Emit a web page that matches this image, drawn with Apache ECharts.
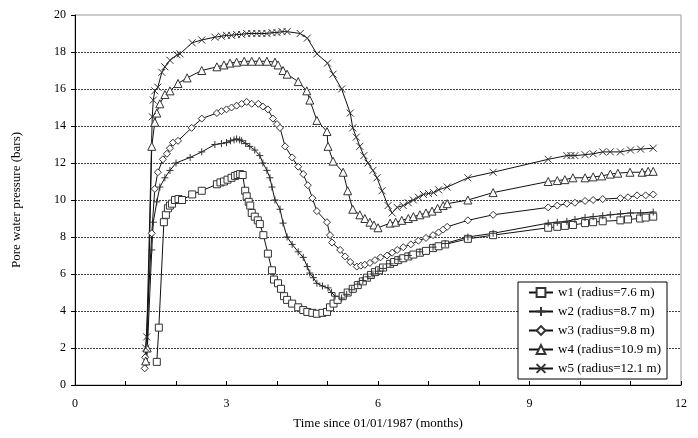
<!DOCTYPE html>
<html>
<head>
<meta charset="utf-8">
<script src="https://cdn.jsdelivr.net/npm/echarts@6/dist/echarts.min.js"></script>
<style>html,body{margin:0;padding:0;background:#fff}#c{width:698px;height:438px}</style>
</head>
<body>
<div id="c"></div>
<script>
var seriesNames = ['w1 (radius=7.6 m)', 'w2 (radius=8.7 m)', 'w3 (radius=9.8 m)', 'w4 (radius=10.9 m)', 'w5 (radius=12.1 m)'];
var xTickLabels = [0, 3, 6, 9, 12];
var yTickLabels = [0, 2, 4, 6, 8, 10, 12, 14, 16, 18, 20];

var w1Data = [[1.62,1.25],[1.66,3.1],[1.76,8.8],[1.80,9.2],[1.84,9.55],[1.88,9.7],[1.92,9.8],[1.98,10.0],[2.05,10.05],[2.12,10.0],[2.32,10.3],[2.51,10.5],[2.81,10.85],[2.88,10.95],[2.95,11.0],[3.02,11.1],[3.1,11.2],[3.17,11.3],[3.22,11.35],[3.27,11.4],[3.32,11.35],[3.37,10.5],[3.4,10.2],[3.44,9.9],[3.47,9.7],[3.5,9.3],[3.56,9.1],[3.62,8.9],[3.66,8.7],[3.73,8.1],[3.82,7.1],[3.9,6.2],[3.94,5.7],[4.02,5.5],[4.08,5.2],[4.14,4.8],[4.2,4.6],[4.3,4.4],[4.42,4.2],[4.52,4.05],[4.6,3.95],[4.7,3.9],[4.79,3.85],[4.9,3.9],[4.99,3.95],[5.05,4.2],[5.12,4.4],[5.2,4.6],[5.3,4.8],[5.4,5.0],[5.5,5.2],[5.6,5.4],[5.7,5.6],[5.78,5.8],[5.86,5.95],[5.94,6.1],[6.02,6.2],[6.1,6.35],[6.24,6.55],[6.32,6.65],[6.4,6.75],[6.5,6.85],[6.6,6.95],[6.7,7.05],[6.83,7.15],[6.95,7.25],[7.09,7.4],[7.2,7.5],[7.33,7.6],[7.78,7.9],[8.28,8.1],[9.37,8.5],[9.55,8.55],[9.7,8.6],[9.86,8.65],[10.1,8.75],[10.26,8.8],[10.45,8.85],[10.8,8.9],[10.95,8.95],[11.19,9.0],[11.3,9.05],[11.45,9.1]];
var w2Data = [[1.42,1.2],[1.52,7.3],[1.55,8.8],[1.62,9.9],[1.68,10.7],[1.78,11.2],[1.88,11.6],[2.0,12.0],[2.28,12.3],[2.51,12.6],[2.77,13.0],[2.9,13.05],[3.0,13.1],[3.08,13.2],[3.15,13.25],[3.2,13.3],[3.26,13.25],[3.3,13.2],[3.38,13.05],[3.46,12.9],[3.56,12.7],[3.66,12.4],[3.72,12.0],[3.8,11.6],[3.86,11.2],[3.9,10.7],[3.96,10.0],[4.06,9.5],[4.12,8.75],[4.2,8.0],[4.3,7.6],[4.42,7.2],[4.52,6.9],[4.6,6.4],[4.65,6.05],[4.72,5.8],[4.79,5.5],[4.9,5.35],[5.01,5.25],[5.08,5.0],[5.15,4.8],[5.28,4.7],[5.38,4.9],[5.48,5.15],[5.6,5.45],[5.7,5.65],[5.8,5.85],[5.9,6.0],[6.0,6.15],[6.1,6.3],[6.24,6.55],[6.4,6.8],[6.6,7.0],[6.83,7.2],[7.09,7.45],[7.33,7.65],[7.78,8.0],[8.28,8.2],[9.37,8.75],[9.55,8.8],[9.74,8.85],[9.9,8.95],[10.1,9.05],[10.26,9.1],[10.45,9.15],[10.6,9.2],[10.8,9.25],[11.0,9.3],[11.2,9.3],[11.45,9.35]];
var w3Data = [[1.38,0.9],[1.39,1.5],[1.52,8.2],[1.58,10.6],[1.64,11.5],[1.74,12.2],[1.82,12.5],[1.88,12.8],[1.94,13.1],[2.04,13.2],[2.31,13.9],[2.51,14.4],[2.81,14.7],[2.9,14.8],[3.0,14.9],[3.1,15.0],[3.2,15.1],[3.3,15.2],[3.4,15.3],[3.5,15.2],[3.63,15.2],[3.72,15.05],[3.82,14.9],[3.92,14.4],[4.0,14.1],[4.06,13.9],[4.16,12.9],[4.3,12.3],[4.42,11.8],[4.52,11.4],[4.61,10.8],[4.7,10.1],[4.79,9.4],[4.99,8.8],[5.05,8.1],[5.09,7.7],[5.25,7.3],[5.35,6.95],[5.45,6.65],[5.58,6.4],[5.66,6.45],[5.74,6.5],[5.84,6.6],[5.94,6.75],[6.05,6.9],[6.18,7.0],[6.28,7.15],[6.38,7.3],[6.5,7.45],[6.65,7.6],[6.8,7.8],[6.95,7.95],[7.09,8.1],[7.2,8.25],[7.29,8.4],[7.37,8.55],[7.78,8.9],[8.28,9.2],[9.37,9.6],[9.55,9.7],[9.74,9.8],[9.9,9.85],[10.1,9.95],[10.26,10.0],[10.45,10.05],[10.8,10.1],[10.95,10.15],[11.13,10.25],[11.3,10.25],[11.45,10.3]];
var w4Data = [[1.4,1.3],[1.43,2.0],[1.52,12.9],[1.58,14.2],[1.62,14.7],[1.68,15.2],[1.78,15.7],[1.88,15.9],[2.04,16.3],[2.22,16.6],[2.51,17.0],[2.81,17.2],[2.95,17.3],[3.07,17.4],[3.2,17.45],[3.35,17.5],[3.5,17.5],[3.65,17.5],[3.8,17.5],[3.96,17.45],[4.02,17.3],[4.12,17.0],[4.2,16.8],[4.42,16.4],[4.59,15.9],[4.65,15.4],[4.79,14.3],[4.99,13.7],[5.01,12.9],[5.11,12.1],[5.31,11.5],[5.4,10.5],[5.5,9.5],[5.64,9.2],[5.74,9.0],[5.84,8.8],[5.92,8.65],[6.0,8.5],[6.24,8.75],[6.35,8.8],[6.47,8.9],[6.6,9.0],[6.7,9.1],[6.83,9.2],[6.95,9.3],[7.07,9.4],[7.18,9.55],[7.29,9.7],[7.37,9.8],[7.78,10.0],[8.28,10.4],[9.37,11.0],[9.55,11.05],[9.7,11.1],[9.86,11.2],[10.1,11.2],[10.26,11.25],[10.43,11.3],[10.6,11.4],[10.75,11.45],[10.99,11.5],[11.23,11.5],[11.35,11.55],[11.45,11.55]];
var w5Data = [[1.4,2.0],[1.42,2.6],[1.53,14.5],[1.55,15.4],[1.58,15.9],[1.64,16.1],[1.72,16.9],[1.78,17.2],[1.88,17.55],[2.02,17.85],[2.08,17.9],[2.32,18.5],[2.51,18.65],[2.77,18.8],[2.9,18.85],[3.0,18.9],[3.1,18.9],[3.2,18.95],[3.3,18.95],[3.4,19.0],[3.5,19.0],[3.6,19.0],[3.7,19.0],[3.8,19.0],[3.9,19.05],[4.0,19.05],[4.1,19.1],[4.2,19.1],[4.46,19.0],[4.6,18.75],[4.79,17.9],[5.0,17.4],[5.11,16.8],[5.28,16.0],[5.45,14.7],[5.5,13.9],[5.57,13.4],[5.64,12.9],[5.72,12.4],[5.8,12.0],[5.9,11.6],[5.98,11.2],[6.08,10.5],[6.2,9.7],[6.28,9.3],[6.38,9.6],[6.5,9.7],[6.6,9.85],[6.7,10.0],[6.8,10.15],[6.9,10.3],[7.0,10.35],[7.1,10.4],[7.2,10.55],[7.37,10.7],[7.78,11.2],[8.28,11.5],[9.37,12.2],[9.74,12.4],[9.82,12.4],[9.9,12.4],[10.1,12.45],[10.26,12.5],[10.45,12.6],[10.6,12.6],[10.8,12.6],[11.0,12.7],[11.2,12.75],[11.45,12.8]];

var FONT = '"Liberation Serif", "Times New Roman", serif';
var allData = [w1Data, w2Data, w3Data, w4Data, w5Data];
var symbols = [
  'path://M0,0L10,0L10,10L0,10Z',
  'path://M5,0L5,10M0,5L10,5',
  'path://M5,0L10,5L5,10L0,5Z',
  'path://M5,0L10,10L0,10Z',
  'path://M0,0L10,10M10,0L0,10'
];
var symbolFill = ['#fff', '#333', '#fff', '#fff', '#333'];
var symbolSizes = [7, 7, 7, 8, 7];

var chart = echarts.init(document.getElementById('c'), null, {renderer: 'canvas'});
chart.setOption({
  animation: false,
  backgroundColor: '#fff',
  grid: {left: 75, right: 17, top: 15, bottom: 53, show: true, borderColor: '#999', borderWidth: 1, backgroundColor: 'transparent'},
  legend: {
    orient: 'vertical', left: 518, top: 282,
    data: seriesNames,
    itemWidth: 24, itemHeight: 11, itemGap: 6,
    padding: [4, 6, 4, 10],
    borderColor: '#000', borderWidth: 1, backgroundColor: '#fff',
    textStyle: {fontFamily: FONT, fontSize: 13, color: '#000'}
  },
  xAxis: {
    type: 'value', min: 0, max: 12, interval: 1,
    name: 'Time since 01/01/1987 (months)', nameLocation: 'middle', nameGap: 32,
    nameTextStyle: {fontFamily: FONT, fontSize: 13, color: '#000'},
    axisLine: {lineStyle: {color: '#000', width: 1}},
    axisTick: {inside: true, length: 4, lineStyle: {color: '#000'}},
    axisLabel: {fontFamily: FONT, fontSize: 12, color: '#000', margin: 13,
      formatter: function (v) { return xTickLabels.indexOf(v) >= 0 ? String(v) : ''; }},
    splitLine: {show: false}
  },
  yAxis: {
    type: 'value', min: 0, max: 20, interval: 2,
    name: 'Pore water pressure (bars)', nameLocation: 'middle', nameGap: 52,
    nameTextStyle: {fontFamily: FONT, fontSize: 13, color: '#000'},
    axisLine: {show: true, lineStyle: {color: '#000', width: 1}},
    axisTick: {show: true, inside: false, length: 4, lineStyle: {color: '#000'}},
    axisLabel: {fontFamily: FONT, fontSize: 12, color: '#000', margin: 9,
      formatter: function (v) { return yTickLabels.indexOf(v) >= 0 ? String(v) : ''; }},
    splitLine: {show: true, showMinLine: false, showMaxLine: false, lineStyle: {color: '#444', type: [2, 1], width: 1}}
  },
  series: allData.map(function (d, i) {
    return {
      name: seriesNames[i], type: 'line', data: d,
      symbol: symbols[i], symbolSize: symbolSizes[i], showAllSymbol: true,
      lineStyle: {color: '#111', width: 1},
      itemStyle: {color: symbolFill[i], borderColor: '#333', borderWidth: 1},
      emphasis: {disabled: true}
    };
  })
});
</script>
</body>
</html>
